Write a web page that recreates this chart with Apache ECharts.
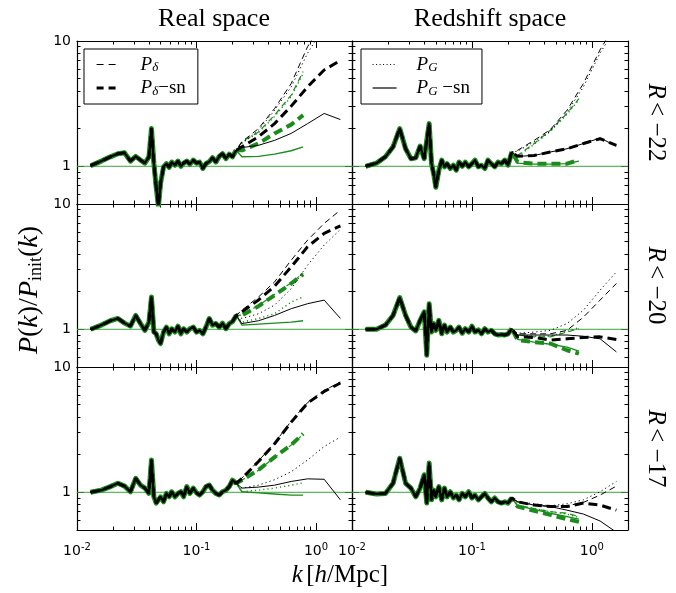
<!DOCTYPE html>
<html>
<head>
<meta charset="utf-8">
<script src="https://cdn.jsdelivr.net/npm/echarts@6/dist/echarts.min.js"></script>
<style>html,body{margin:0;padding:0;background:#fff}#chart{width:676px;height:593px}</style>
</head>
<body>
<div id="chart"></div>
<script>
// k grid for the noisy low-k part (shared by all curves of a panel)
const kLow = [0.013, 0.016, 0.019, 0.022, 0.025, 0.028, 0.031, 0.034, 0.037, 0.040, 0.042, 0.044, 0.046, 0.048, 0.050, 0.053, 0.056, 0.059, 0.062, 0.066, 0.070, 0.074, 0.078, 0.083, 0.088, 0.094, 0.100, 0.106, 0.113, 0.120, 0.128, 0.136, 0.145, 0.155, 0.165, 0.176, 0.188, 0.200, 0.215];
// k grid for the high-k tails (black curves) and green curves (stop earlier)
const kHigh = [0.24, 0.33, 0.45, 0.62, 0.85, 1.17, 1.6];
const kGreen = [0.24, 0.33, 0.45, 0.62, 0.78];

// low-k ratios, one array per panel
const noiseReal22 = [1.01, 1.10, 1.19, 1.26, 1.28, 1.10, 1.20, 1.12, 1.06, 1.19, 2.0, 1.05, 0.68, 0.48, 0.73, 0.99, 1.05, 0.98, 1.08, 1.02, 1.10, 1.0, 1.06, 1.10, 1.04, 1.12, 1.06, 1.08, 0.96, 1.05, 1.09, 1.17, 1.08, 1.20, 1.26, 1.15, 1.25, 1.19, 1.34];
const noiseRsd22 = [1.0, 1.06, 1.19, 1.43, 2.0, 1.38, 1.15, 1.17, 1.45, 1.15, 1.61, 2.19, 1.05, 0.87, 0.68, 0.93, 1.12, 0.99, 1.05, 0.96, 1.02, 0.93, 1.08, 1.0, 1.08, 0.99, 1.05, 1.12, 0.99, 1.02, 0.96, 1.12, 1.05, 0.99, 1.08, 1.05, 1.12, 1.02, 1.30];
const noiseReal20 = [1.0, 1.08, 1.17, 1.22, 1.12, 1.06, 1.29, 1.11, 0.98, 1.14, 1.81, 0.95, 0.92, 0.82, 0.77, 0.95, 1.04, 0.92, 1.01, 0.95, 1.06, 0.92, 1.01, 0.95, 1.01, 1.04, 0.95, 0.98, 0.92, 1.04, 1.22, 1.08, 1.11, 1.04, 1.12, 1.01, 1.11, 1.15, 1.29];
const noiseRsd20 = [1.0, 1.0, 1.08, 1.29, 1.79, 1.29, 1.04, 0.97, 1.18, 1.38, 0.62, 1.60, 0.95, 1.11, 0.98, 1.18, 0.92, 1.08, 0.95, 1.04, 0.95, 0.98, 1.04, 0.93, 1.01, 0.95, 1.06, 0.95, 0.99, 0.92, 1.01, 0.95, 0.98, 0.92, 0.90, 0.91, 0.90, 0.92, 1.01];
const noiseReal17 = [1.0, 1.04, 1.11, 1.18, 1.12, 1.01, 1.29, 1.14, 1.08, 0.98, 1.81, 0.92, 0.82, 0.87, 0.92, 0.84, 0.98, 0.92, 1.01, 0.92, 0.98, 1.01, 0.92, 1.11, 0.98, 1.08, 0.99, 0.95, 1.01, 1.11, 1.14, 1.04, 0.98, 0.95, 1.01, 1.04, 1.11, 1.25, 1.18];
const noiseRsd17 = [1.0, 0.97, 0.98, 1.18, 1.87, 1.18, 1.08, 0.92, 1.08, 1.38, 0.82, 1.71, 0.87, 1.04, 0.92, 1.11, 0.87, 1.08, 0.92, 1.01, 0.9, 0.95, 0.87, 0.98, 0.92, 1.01, 0.9, 0.95, 0.87, 0.92, 0.98, 0.9, 0.84, 0.9, 0.84, 0.82, 0.84, 0.82, 0.9];

// high-k tails, black (on kHigh)
const real22Pd = [1.57, 2.0, 2.89, 4.58, 9.0, 15, 20];
const real22PdSn = [1.43, 1.72, 2.19, 3.02, 4.31, 5.87, 7.0];
const real22Pg = [1.52, 1.94, 2.8, 4.3, 8.0, 13, 18];
const real22PgSn = [1.41, 1.47, 1.61, 1.83, 2.19, 2.64, 2.36];
const rsd22Pd = [1.34, 1.61, 1.96, 2.8, 4.58, 8.5, 14];
const rsd22PdSn = [1.2, 1.22, 1.30, 1.38, 1.52, 1.66, 1.47];
const rsd22Pg = [1.32, 1.57, 1.9, 2.7, 4.3, 8.0, 13];
const rsd22PgSn = [1.2, 1.22, 1.30, 1.38, 1.52, 1.68, 1.45];
const real20Pd = [1.42, 1.81, 2.39, 3.56, 5.15, 7.0, 8.95];
const real20PdSn = [1.38, 1.71, 2.21, 3.15, 4.56, 5.83, 6.7];
const real20Pg = [1.22, 1.33, 1.56, 2.11, 3.25, 4.7, 6.27];
const real20PgSn = [1.11, 1.17, 1.29, 1.46, 1.60, 1.71, 1.22];
const rsd20Pd = [0.92, 0.92, 0.92, 0.98, 1.25, 1.71, 2.32];
const rsd20PdSn = [0.87, 0.86, 0.82, 0.84, 0.86, 0.87, 0.83];
const rsd20Pg = [0.93, 0.95, 0.98, 1.11, 1.42, 2.05, 2.87];
const rsd20PgSn = [0.9, 0.9, 0.9, 0.9, 0.88, 0.84, 0.66];
const real17Pd = [1.3, 1.78, 2.47, 3.7, 5.2, 6.5, 7.6];
const real17PdSn = [1.29, 1.76, 2.44, 3.63, 5.15, 6.38, 7.45];
const real17Pg = [1.08, 1.14, 1.26, 1.46, 1.81, 2.32, 2.76];
const real17PgSn = [1.08, 1.10, 1.14, 1.22, 1.28, 1.27, 0.87];
const rsd17Pd = [0.84, 0.79, 0.77, 0.78, 0.83, 0.95, 1.12];
const rsd17PdSn = [0.84, 0.79, 0.77, 0.77, 0.82, 0.79, 0.72];
const rsd17Pg = [0.84, 0.81, 0.78, 0.81, 0.87, 1.01, 1.22];
const rsd17PgSn = [0.84, 0.79, 0.77, 0.72, 0.67, 0.59, 0.48];

// high-k tails, green (on kGreen)
const real22PdG = [1.57, 1.88, 2.56, 3.7, 5.7];
const real22PdSnG = [1.34, 1.52, 1.83, 2.15, 2.56];
const real22PgG = [1.55, 1.85, 2.5, 3.6, 5.5];
const real22PgSnG = [1.19, 1.20, 1.25, 1.33, 1.43];
const rsd22PdG = [1.22, 1.52, 1.94, 2.64, 3.47];
const rsd22PdSnG = [1.08, 1.05, 1.05, 1.05, 1.12];
const rsd22PgG = [1.2, 1.5, 1.9, 2.6, 3.4];
const rsd22PgSnG = [1.06, 1.04, 1.04, 1.05, 1.1];
const real20PdG = [1.3, 1.55, 1.9, 2.35, 2.8];
const real20PdSnG = [1.29, 1.53, 1.87, 2.32, 2.75];
const real20PgG = [1.14, 1.22, 1.33, 1.65, 1.81];
const real20PgSnG = [1.08, 1.10, 1.12, 1.14, 1.17];
const rsd20PdG = [0.9, 0.87, 0.87, 0.95, 1.01];
const rsd20PdSnG = [0.82, 0.79, 0.77, 0.68, 0.64];
const rsd20PgG = [0.9, 0.88, 0.88, 0.96, 1.03];
const rsd20PgSnG = [0.83, 0.79, 0.76, 0.72, 0.67];
const real17PdG = [1.25, 1.5, 1.9, 2.38, 2.9];
const real17PdSnG = [1.25, 1.51, 1.91, 2.39, 2.93];
const real17PgG = [1.01, 1.04, 1.08, 1.14, 1.19];
const real17PgSnG = [1.01, 0.99, 0.97, 0.95, 0.95];
const rsd17PdG = [0.79, 0.74, 0.70, 0.68, 0.64];
const rsd17PdSnG = [0.77, 0.71, 0.66, 0.61, 0.58];
const rsd17PgG = [0.79, 0.74, 0.7, 0.67, 0.63];
const rsd17PgSnG = [0.78, 0.73, 0.68, 0.64, 0.61];

const columnTitles = ['Real space', 'Redshift space'];
const rowLabels = ['−22', '−20', '−17'];

const panels = [
  { noise: noiseReal22, black: [real22Pd, real22PdSn, real22Pg, real22PgSn], green: [real22PdG, real22PdSnG, real22PgG, real22PgSnG] },
  { noise: noiseRsd22, black: [rsd22Pd, rsd22PdSn, rsd22Pg, rsd22PgSn], green: [rsd22PdG, rsd22PdSnG, rsd22PgG, rsd22PgSnG] },
  { noise: noiseReal20, black: [real20Pd, real20PdSn, real20Pg, real20PgSn], green: [real20PdG, real20PdSnG, real20PgG, real20PgSnG] },
  { noise: noiseRsd20, black: [rsd20Pd, rsd20PdSn, rsd20Pg, rsd20PgSn], green: [rsd20PdG, rsd20PdSnG, rsd20PgG, rsd20PgSnG] },
  { noise: noiseReal17, black: [real17Pd, real17PdSn, real17Pg, real17PgSn], green: [real17PdG, real17PdSnG, real17PgG, real17PgSnG] },
  { noise: noiseRsd17, black: [rsd17Pd, rsd17PdSn, rsd17Pg, rsd17PgSn], green: [rsd17PdG, rsd17PdSnG, rsd17PgG, rsd17PgSnG] }
];

const GREEN = '#1a8c1a';
const SERIF = 'Liberation Serif';
const SANS = 'DejaVu Sans';

// line kinds: P_delta, P_delta-sn, P_G, P_G-sn
const kinds = [
  { name: 'Pd', type: [6, 4], width: 1, gwidth: 1.2 },
  { name: 'PdSn', type: [9, 5], width: 3, gwidth: 4 },
  { name: 'Pg', type: [1.2, 3], width: 1, gwidth: 1.4 },
  { name: 'PgSn', type: 'solid', width: 1, gwidth: 1.4 }
];

const legendText = {
  Pd: '{i|P}{s|δ}',
  PdSn: '{i|P}{s|δ}{n|−sn}',
  Pg: '{i|P}{s|G}',
  PgSn: '{i|P}{s|G}{n| −sn}'
};

const lefts = [77, 352];
const widths = [275, 276];
const tops = [41, 204, 367];
const H = 163;

const grid = [], xAxis = [], yAxis = [], series = [];

const isPow = v => Math.abs(Math.log10(v) - Math.round(Math.log10(v))) < 1e-6;

panels.forEach((p, i) => {
  const row = Math.floor(i / 2), col = i % 2;
  grid.push({ left: lefts[col], top: tops[row], width: widths[col], height: H, containLabel: false });
  const axCommon = {
    type: 'log', logBase: 10, gridIndex: i,
    axisLine: { show: true, onZero: false, lineStyle: { color: '#000', width: 1.2 } },
    axisTick: { show: true, inside: true, length: 7, lineStyle: { color: '#000', width: 1 } },
    minorTick: { show: true, splitNumber: 9, length: 3.5, lineStyle: { color: '#000', width: 1 } },
    splitLine: { show: false }
  };
  xAxis.push(Object.assign({}, axCommon, {
    min: 0.01, max: 2, position: 'bottom',
    axisLabel: {
      show: row === 2, margin: 12, color: '#000', fontFamily: SANS, fontSize: 14,
      formatter: v => isPow(v) ? '10{e|' + Math.round(Math.log10(v)) + '}' : '',
      rich: { e: { fontFamily: SANS, fontSize: 10, padding: [0, 0, 9, 0], color: '#000' } }
    }
  }));
  xAxis.push(Object.assign({}, axCommon, { min: 0.01, max: 2, position: 'top', axisLabel: { show: false } }));
  yAxis.push(Object.assign({}, axCommon, {
    min: 0.5, max: 10, position: 'left',
    axisLabel: {
      show: col === 0, margin: 6, color: '#000', fontFamily: SANS, fontSize: 14,
      formatter: v => (isPow(v) && v > 0.9) ? String(Math.round(v)) : ''
    }
  }));
  yAxis.push(Object.assign({}, axCommon, { min: 0.5, max: 10, position: 'right', axisLabel: { show: false } }));

  const xi = 2 * i, yi = 2 * i;
  const noisePart = kLow.map((k, j) => [k, p.noise[j]]);

  // unity line
  series.push({
    type: 'line', xAxisIndex: xi, yAxisIndex: yi, silent: true, symbol: 'none', z: 1,
    data: [[0.01, 1], [2, 1]],
    lineStyle: { color: '#3aa63a', width: 1 }
  });
  // green error band around the low-k curves
  series.push({
    type: 'line', xAxisIndex: xi, yAxisIndex: yi, silent: true, symbol: 'none', z: 2,
    data: noisePart,
    lineStyle: { color: GREEN, width: 5, join: 'round' }
  });
  kinds.forEach((kd, m) => {
    series.push({
      name: kd.name + 'G', type: 'line', xAxisIndex: xi, yAxisIndex: yi, silent: true, symbol: 'none', z: 3,
      data: noisePart.concat(kGreen.map((k, j) => [k, p.green[m][j]])),
      lineStyle: { color: GREEN, width: kd.gwidth, type: kd.type }
    });
  });
  // dark core where all black curves overlap
  series.push({
    type: 'line', xAxisIndex: xi, yAxisIndex: yi, silent: true, symbol: 'none', z: 4,
    data: noisePart,
    lineStyle: { color: '#000', width: 2.2, join: 'round' }
  });
  kinds.forEach((kd, m) => {
    series.push({
      name: kd.name, type: 'line', xAxisIndex: xi, yAxisIndex: yi, silent: true, symbol: 'none', z: 4,
      data: noisePart.concat(kHigh.map((k, j) => [k, p.black[m][j]])),
      itemStyle: { color: '#000' },
      lineStyle: { color: '#000', width: kd.width, type: kd.type }
    });
  });
});

const legendRich = {
  i: { fontFamily: SERIF, fontStyle: 'italic', fontSize: 19, color: '#000', lineHeight: 22 },
  s: { fontFamily: SERIF, fontStyle: 'italic', fontSize: 13, color: '#000', padding: [7, 0, 0, 0] },
  n: { fontFamily: SERIF, fontSize: 19, color: '#000', lineHeight: 22 }
};
const legendBase = {
  orient: 'vertical', top: 49, itemWidth: 24, itemHeight: 10, itemGap: 4,
  padding: [6, 12, 6, 11], borderColor: '#000', borderWidth: 1, backgroundColor: '#fff',
  selectedMode: false, formatter: n => legendText[n],
  itemStyle: { opacity: 0 },
  textStyle: { padding: [0, 0, 0, 15], rich: legendRich }
};
const legendItem = (name, width, type) => ({ name, lineStyle: { color: '#000', width, type } });

const rightLabelRich = {
  i: { fontFamily: SERIF, fontStyle: 'italic', fontSize: 25, color: '#000' },
  n: { fontFamily: SERIF, fontSize: 25, color: '#000' }
};

const option = {
  animation: false,
  backgroundColor: '#fff',
  grid, xAxis, yAxis, series,
  legend: [
    Object.assign({}, legendBase, { left: 84, data: [legendItem('Pd', 1, [7, 5]), legendItem('PdSn', 3.2, [7, 5])] }),
    Object.assign({}, legendBase, { left: 361, data: [legendItem('Pg', 1, [1, 2.5]), legendItem('PgSn', 1.2, 'solid')] })
  ],
  graphic: [
    { type: 'text', x: 214, y: 19, style: { text: columnTitles[0], font: '26px "Liberation Serif"', fill: '#000', align: 'center', verticalAlign: 'middle' } },
    { type: 'text', x: 490, y: 19, style: { text: columnTitles[1], font: '26px "Liberation Serif"', fill: '#000', align: 'center', verticalAlign: 'middle' } },
    ...rowLabels.map((r, j) => ({
      type: 'text', x: 656, y: tops[j] + H / 2, rotation: -Math.PI / 2,
      style: { text: '{i|R} {n|< ' + r + '}', rich: rightLabelRich, align: 'center', verticalAlign: 'middle' }
    })),
    {
      type: 'text', x: 30, y: 290, rotation: Math.PI / 2,
      style: {
        text: '{i|P}{n|(}{i|k}{n|)/}{i|P}{s|init}{n|(}{i|k}{n|)}', align: 'center', verticalAlign: 'middle',
        rich: {
          i: { fontFamily: SERIF, fontStyle: 'italic', fontSize: 28, color: '#000' },
          n: { fontFamily: SERIF, fontSize: 28, color: '#000' },
          s: { fontFamily: SERIF, fontSize: 18, color: '#000', padding: [13, 0, 0, 0] }
        }
      }
    },
    {
      type: 'text', x: 340, y: 575,
      style: {
        text: '{i|k} {n|[}{i|h}{n|/Mpc]}', align: 'center', verticalAlign: 'middle',
        rich: {
          i: { fontFamily: SERIF, fontStyle: 'italic', fontSize: 25, color: '#000' },
          n: { fontFamily: SERIF, fontSize: 25, color: '#000' }
        }
      }
    }
  ]
};

const chart = echarts.init(document.getElementById('chart'));
chart.setOption(option);
</script>
</body>
</html>
